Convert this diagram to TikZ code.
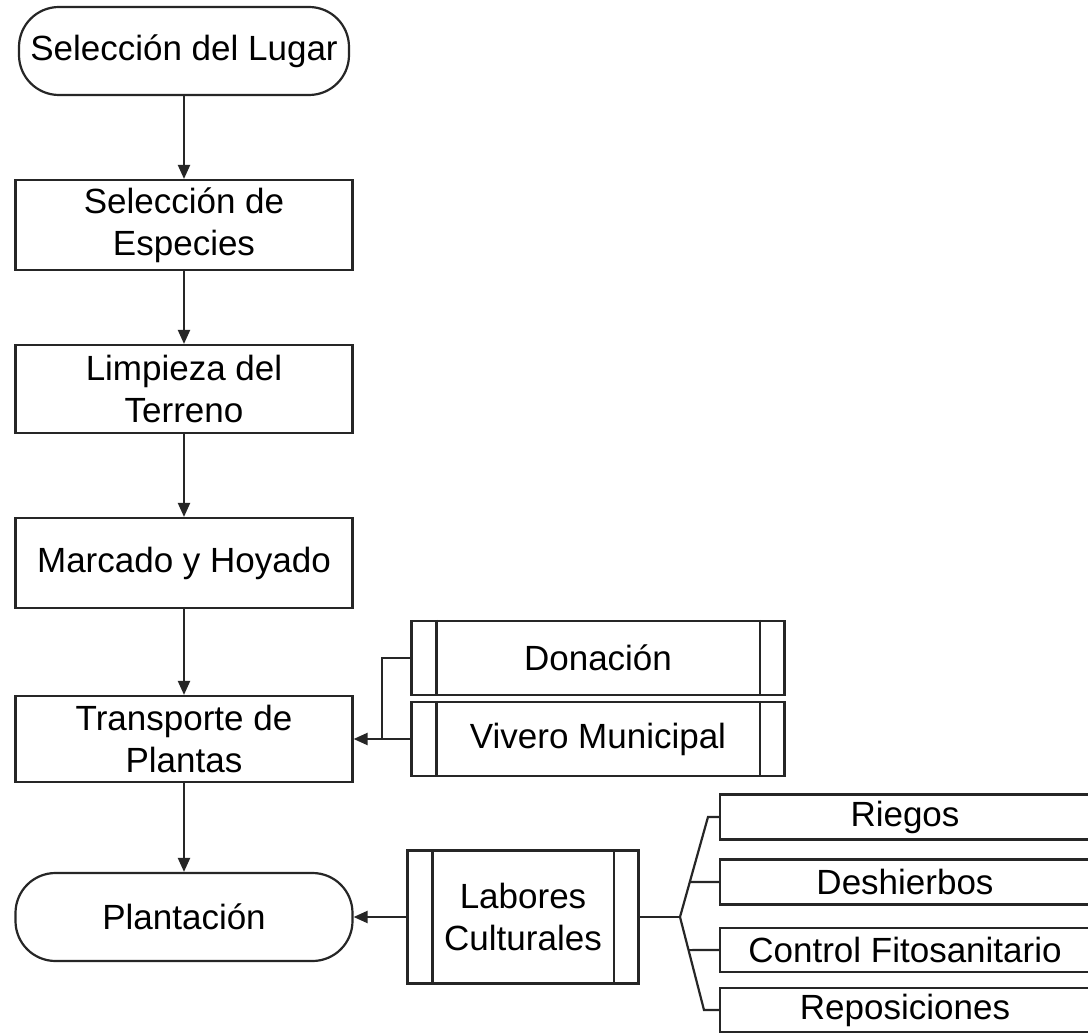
\documentclass[tikz,border=0pt]{standalone}
\usepackage{fontspec}
\setmainfont{Liberation Sans}
\usetikzlibrary{arrows.meta,calc}

\begin{document}
\begin{tikzpicture}
[x=1pt,y=-1pt,
 paso/.style={draw=black!85,line width=2.2pt,fill=white,minimum width=337pt,minimum height=88pt,inner sep=0pt,align=center,font=\fontsize{35}{42}\selectfont},
 terminal/.style={paso,rounded corners=40pt},
 predef/.style={paso,minimum width=373pt,minimum height=74pt},
 labor/.style={paso,minimum width=370pt,minimum height=45pt},
 flecha/.style={-{Triangle[length=14pt,width=12pt]},line width=2.2pt,black!85},
 linea/.style={line width=2.2pt,black!85}]

\fill[white] (0,0) rectangle (1088,1035);
\useasboundingbox (0,0) rectangle (1088,1035);
\clip (0,0) rectangle (1088,1035);

% columna principal
\node[terminal,minimum width=330pt] (lugar) at (184,51) {Selección del Lugar};
\node[paso,minimum height=90pt] (especies) at (184,225) {Selección de\\Especies};
\node[paso] (limpieza) at (184,389) {Limpieza del\\Terreno};
\node[paso,minimum height=90pt] (marcado) at (184,563) {Marcado y Hoyado};
\node[paso,minimum height=86pt] (transporte) at (184,739) {Transporte de\\Plantas};
\node[terminal] (plantacion) at (184,917) {Plantación};

% origen de plantas y labores
\node[predef] (donacion) at (598,658) {Donación};
\node[predef] (vivero) at (598,739) {Vivero Municipal};
\node[predef,minimum width=231pt,minimum height=133pt] (labores) at (523,917) {Labores\\Culturales};

\node[labor] (riegos) at (905,817) {Riegos};
\node[labor] (deshierbos) at (905,882) {Deshierbos};
\node[labor,minimum height=44pt] (control) at (905,950) {Control Fitosanitario};
\node[labor,minimum height=44pt] (reposiciones) at (905,1010) {Reposiciones};

\foreach \n in {donacion,vivero,labores}{
  \draw[linea] ([xshift=26pt]\n.north west) -- ([xshift=26pt]\n.south west);
  \draw[linea] ([xshift=-26pt]\n.north east) -- ([xshift=-26pt]\n.south east);
}

\draw[flecha] (lugar) -- (especies);
\draw[flecha] (especies) -- (limpieza);
\draw[flecha] (limpieza) -- (marcado);
\draw[flecha] (marcado) -- (transporte);
\draw[flecha] (transporte) -- (plantacion);

\coordinate (junta) at (382,739);
\draw[linea] (donacion.west) -| (junta);
\draw[flecha] (vivero.west) -- (junta) -- (transporte.east);

\draw[flecha] (labores) -- (plantacion);

% llave de labores
\coordinate (rama) at (680,917);
\coordinate (arriba) at (708,817);
\coordinate (abajo) at (704,1010);
\draw[linea] (labores.east) -- (rama);
\draw[linea] (riegos.west) -- (arriba) -- (rama) -- (abajo) -- (reposiciones.west);
\draw[linea] (deshierbos.west) -- ($(rama)!0.35!(arriba)$);
\draw[linea] (control.west) -- ($(rama)!0.356!(abajo)$);

\end{tikzpicture}
\end{document}
